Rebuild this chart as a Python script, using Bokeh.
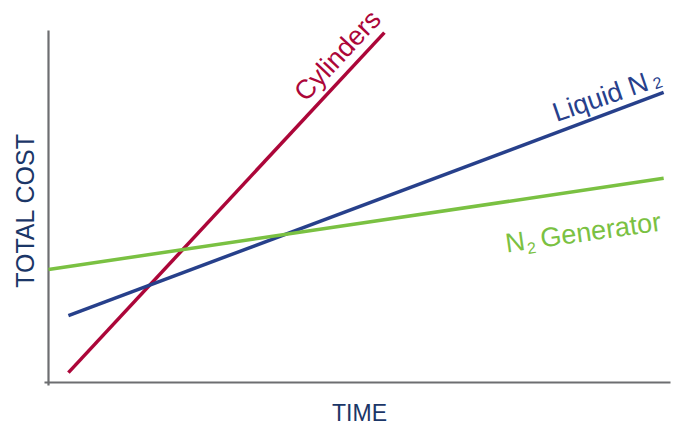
from bokeh.plotting import figure
from bokeh.models import Range1d
from bokeh.core.properties import value
from bokeh.embed import file_html
from bokeh.resources import INLINE
import math

# ---- data (time, total cost) in arbitrary units 0..100 ----
cyl_time = [3.2, 54.0]
cyl_cost = [2.8, 99.4]
liq_time = [3.2, 98.9]
liq_cost = [19.0, 82.4]
gen_time = [0.0, 98.9]
gen_cost = [32.1, 58.0]

x_label = "TIME"
y_label = "TOTAL COST"

RED = "#AC0639"
BLUE = "#27408B"
GREEN = "#7AC142"
AXIS = "#6D6E71"
NAVY = "#1B3667"
FONT = value("Liberation Sans")

W, H = 678, 424
# frame mapping: data 0..100 -> pixels
XL, XR = 48, 670
YB, YT = 382, 30
sx = (XR - XL) / 100.0
sy = (YB - YT) / 100.0

def dx(px):
    return (px - XL) / sx

def dy(py):
    return (YB - py) / sy

p = figure(width=W, height=H, output_backend="svg", toolbar_location=None,
           x_range=Range1d(dx(0), dx(W)), y_range=Range1d(dy(H), dy(0)),
           x_axis_location=None, y_axis_location=None, min_border=0,
           outline_line_color=None)
p.grid.visible = False
p.background_fill_color = "white"
p.border_fill_color = "white"

# axes lines
p.segment(x0=[0, dx(XL - 4)], y0=[dy(YB + 3), 0], x1=[0, 100], y1=[100, 0],
          line_color=AXIS, line_width=2.2)

# series
p.line(cyl_time, cyl_cost, line_color=RED, line_width=3.5)
p.line(liq_time, liq_cost, line_color=BLUE, line_width=3.5)
p.line(gen_time, gen_cost, line_color=GREEN, line_width=3.5)

# axis labels
p.text(x=[dx(359)], y=[dy(412)], text=[x_label], text_font=FONT, text_font_size="23px",
       text_color=NAVY, text_align="center", text_baseline="middle")
p.text(x=[dx(24)], y=[dy(210)], text=[y_label], text_font=FONT, text_font_size="25px",
       text_color=NAVY, text_align="center", text_baseline="middle", angle=math.pi / 2)

# series labels
a_cyl = math.radians(47)
p.text(x=[dx(337)], y=[dy(55)], text=["Cylinders"], text_font=FONT, text_font_size="27px",
       text_color=RED, text_align="center", text_baseline="middle", angle=a_cyl)

a_liq = math.radians(19)
p.text(x=[dx(553)], y=[dy(113)], text=["Liquid N"], text_font=FONT, text_font_size="27px",
       text_color=BLUE, text_align="left", text_baseline="alphabetic", angle=a_liq)
p.text(x=[dx(657)], y=[dy(82)], text=["2"], text_font=FONT, text_font_size="16px",
       text_color=BLUE, text_align="center", text_baseline="middle", angle=a_liq)

a_gen = math.radians(8)
p.text(x=[dx(505)], y=[dy(243)], text=["N"], text_font=FONT, text_font_size="27px",
       text_color=GREEN, text_align="left", text_baseline="alphabetic", angle=a_gen)
p.text(x=[dx(531)], y=[dy(247)], text=["2"], text_font=FONT, text_font_size="16px",
       text_color=GREEN, text_align="center", text_baseline="middle", angle=a_gen)
p.text(x=[dx(540)], y=[dy(238)], text=["Generator"], text_font=FONT, text_font_size="27px",
       text_color=GREEN, text_align="left", text_baseline="alphabetic", angle=a_gen)

open("out.html", "w").write(file_html(p, INLINE))
